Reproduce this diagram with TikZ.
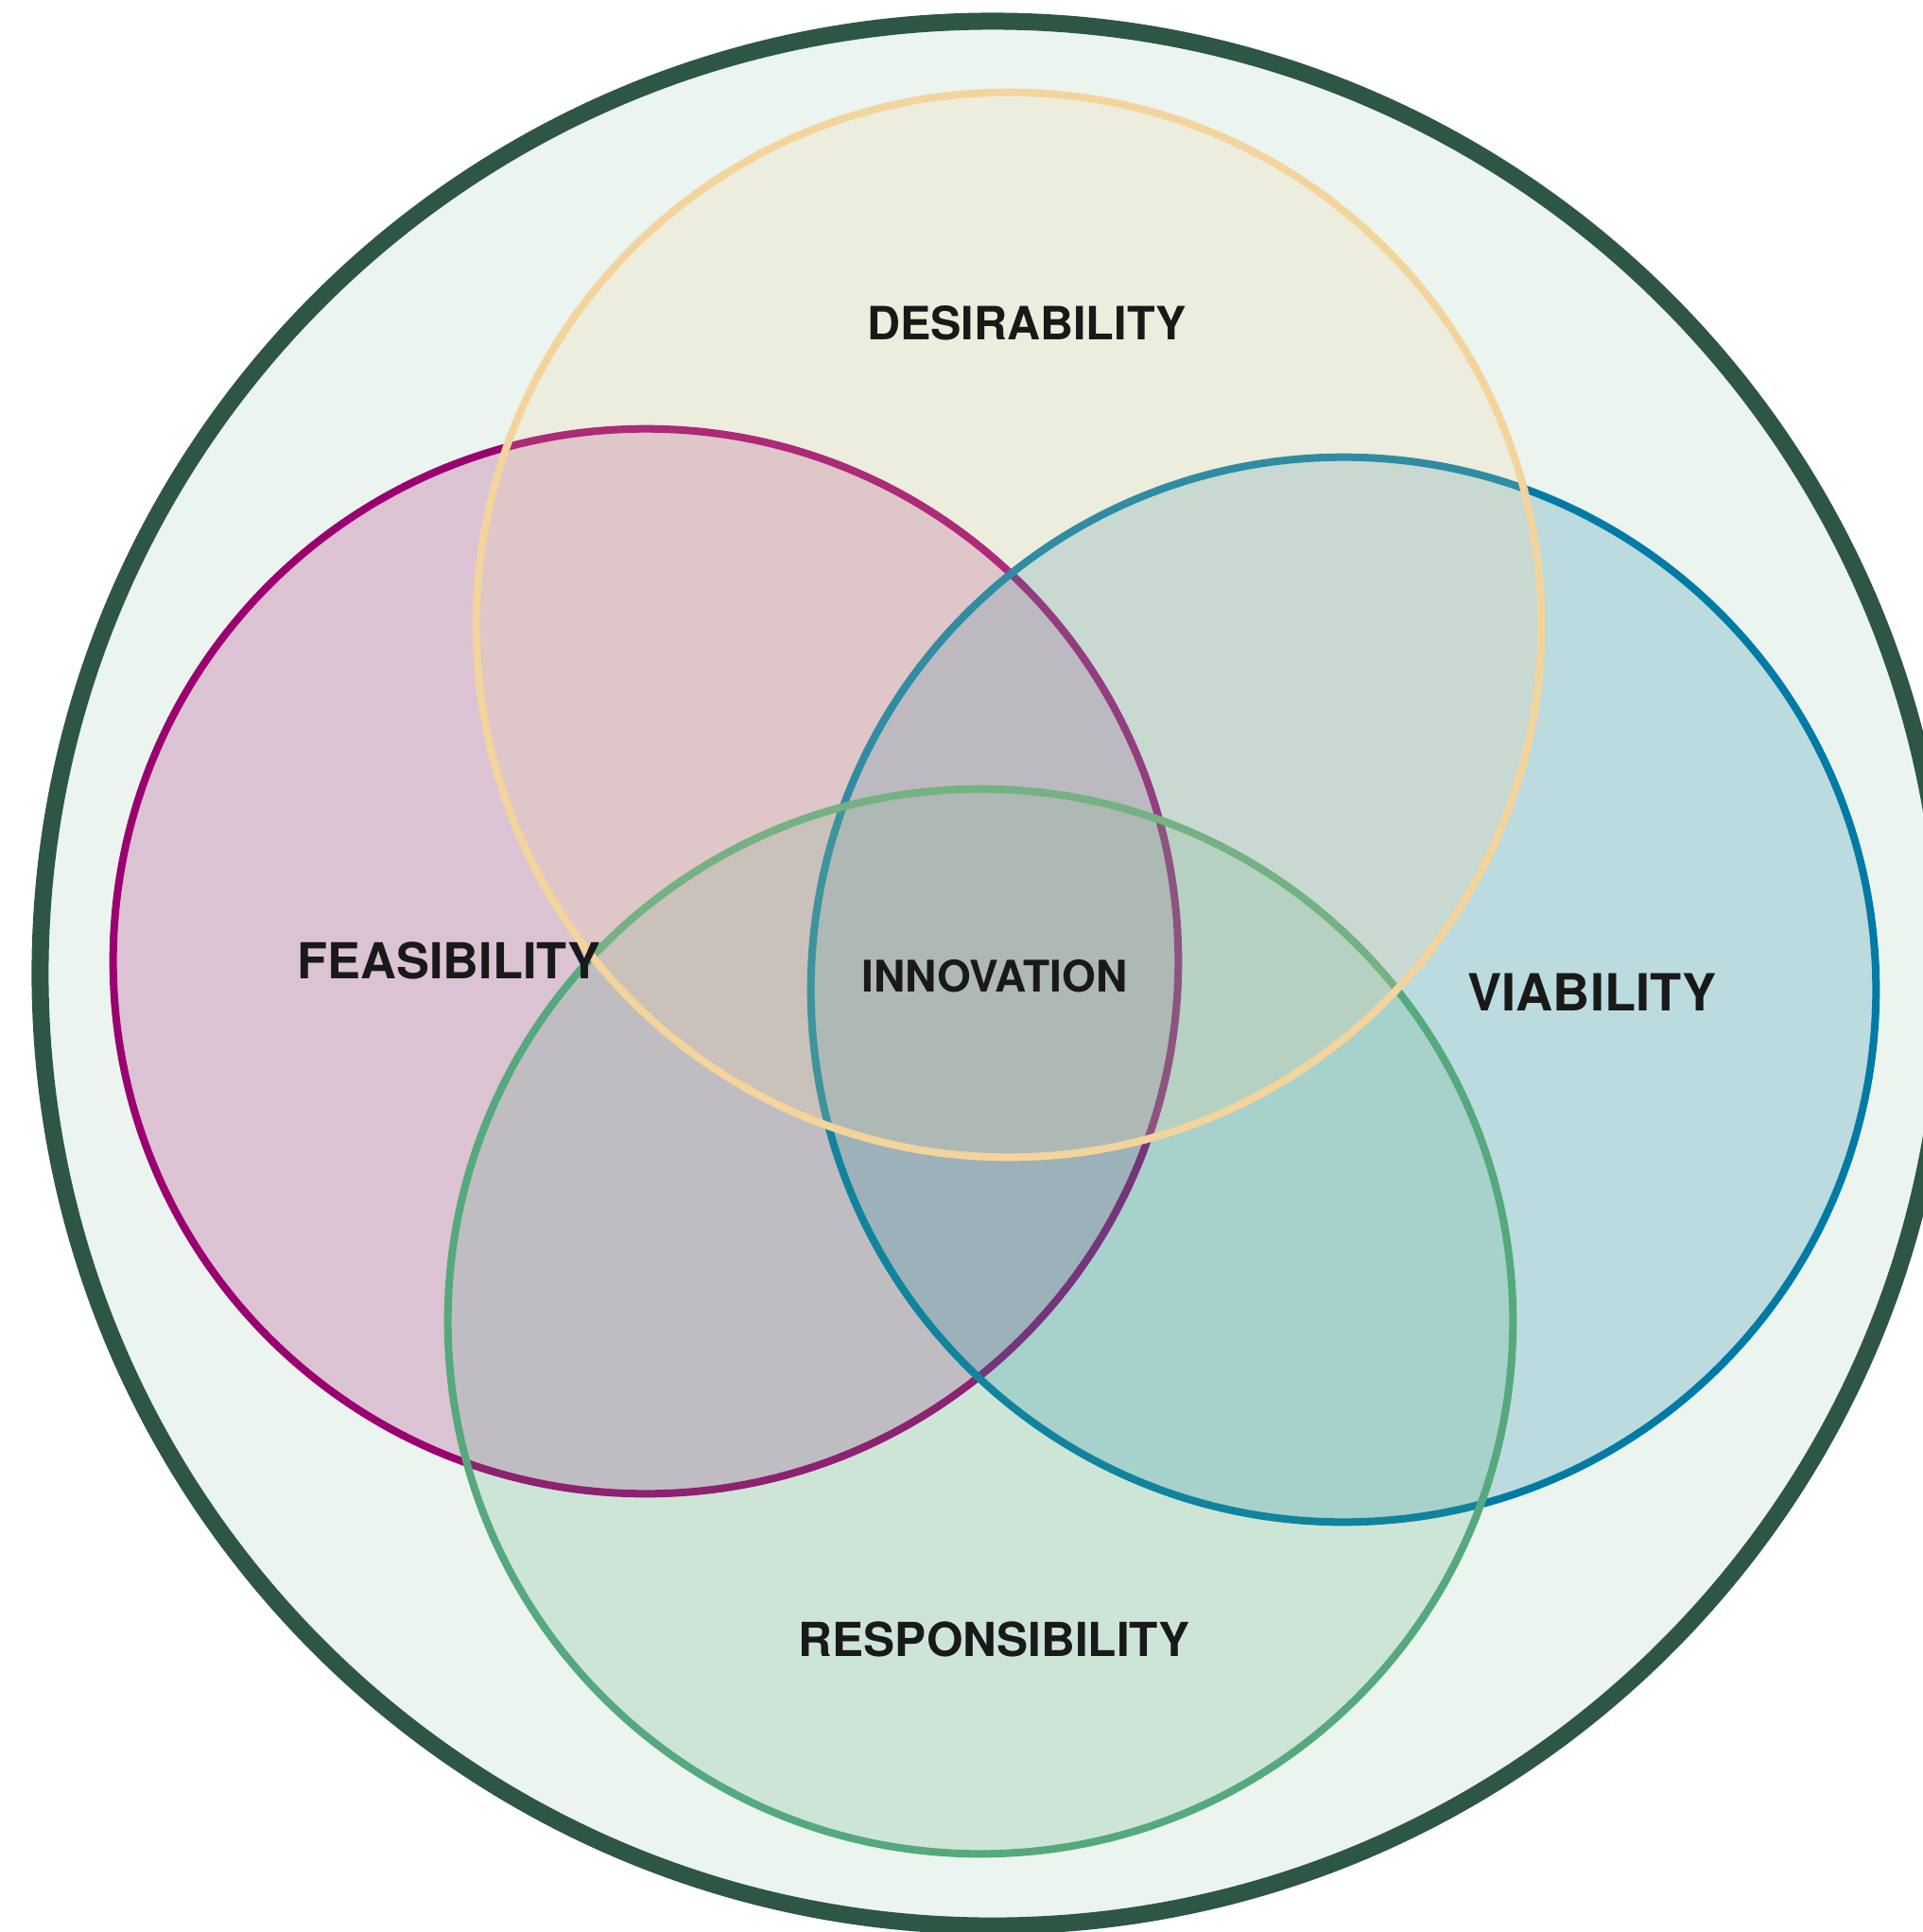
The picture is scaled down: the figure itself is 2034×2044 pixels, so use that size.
\documentclass[tikz,border=0pt]{standalone}
\usepackage{fontspec}
\setmainfont{TeX Gyre Heros}
\usetikzlibrary{positioning}
\definecolor{outerline}{RGB}{46, 86, 68}
\definecolor{outerfill}{RGB}{235, 244, 238}
\definecolor{desire}{RGB}{243, 212, 156}
\definecolor{feas}{RGB}{155, 0, 112}
\definecolor{viab}{RGB}{0, 123, 165}
\definecolor{resp}{RGB}{85, 169, 125}
\definecolor{labeltext}{RGB}{25, 25, 25}

\begin{document}
\begin{tikzpicture}
  [
    x = 0.01cm,
    y = -0.01cm
  ]
  \useasboundingbox (0,0) rectangle (2034,2044);
  \begin{scope}[ring/.style={circle,draw,inner sep=0pt,minimum size=11.26cm,line width=0.08cm,fill opacity=0.2,draw opacity=1},
  			word/.style={inner sep=0pt,text=labeltext,font=\bfseries}]
  \node [circle,draw=outerline,fill=outerfill,line width=0.18cm,inner sep=0pt,minimum size=20.14cm] (world) at (1050,1030) {};
  \node [ring,draw=feas,fill=feas] (feasc) at (683,1017) {};
  \node [ring,draw=viab,fill=viab] (viabc) at (1421,1047) {};
  \node [ring,draw=resp,fill=resp] (respc) at (1037,1398) {};
  \node [ring,draw=desire,fill=desire] (desc) at (1067,661) {};
  \node [word,font=\bfseries\fontsize{13.8}{16}\selectfont] (des) at (1086,342) {DESIRABILITY};
  \node [word,font=\bfseries\fontsize{14.9}{17}\selectfont] (fea) at (475,1016) {FEASIBILITY};
  \node [word,font=\bfseries\fontsize{13.1}{15}\selectfont] (inn) at (1052,1033) {INNOVATION};
  \node [word,font=\bfseries\fontsize{15.4}{18}\selectfont] (via) at (1684,1050) {VIABILITY};
  \node [word,font=\bfseries\fontsize{14.1}{16}\selectfont] (res) at (1052,1734) {RESPONSIBILITY};
  \end{scope}
\end{tikzpicture}
\end{document}
